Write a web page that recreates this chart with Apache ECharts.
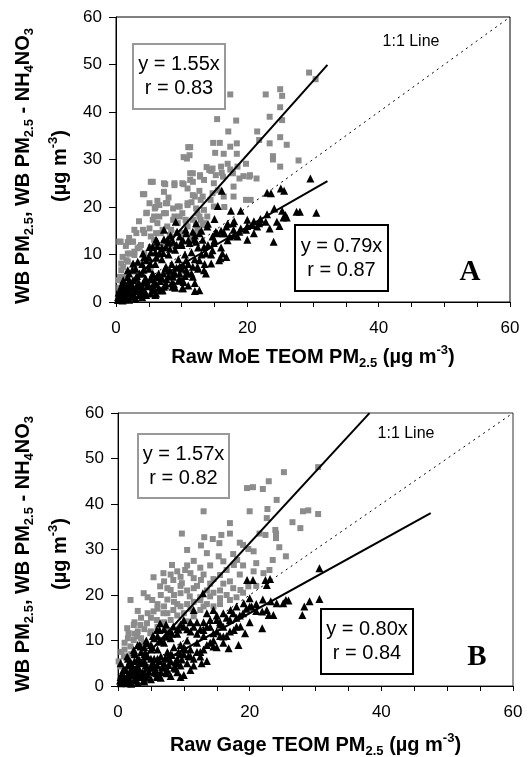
<!DOCTYPE html>
<html><head><meta charset="utf-8">
<script src="https://cdn.jsdelivr.net/npm/echarts/dist/echarts.min.js"></script>
<style>html,body{margin:0;padding:0;background:#fff}#c{width:529px;height:757px}</style>
</head><body><div id="c"></div><script>
// ---------- Panel A data (Raw MoE TEOM) ----------
const greyA = [[29.4,48.3],[30.4,46.9],[17.4,43.7],[22.8,43.7],[25.0,44.8],[25.3,43.4],[25.0,41.0],[23.4,39.0],[25.3,38.3],[15.4,38.5],[18.3,38.2],[21.5,35.9],[17.1,35.9],[23.4,33.4],[25.0,34.7],[26.0,33.1],[21.8,34.1],[14.8,33.5],[15.8,33.5],[17.4,32.7],[18.4,33.4],[11.0,32.6],[10.3,30.5],[15.1,31.4],[16.4,31.2],[18.4,31.2],[23.9,30.7],[23.9,30.0],[27.8,29.8],[19.8,29.1],[25.0,28.5],[13.8,28.4],[14.5,27.6],[16.1,27.2],[11.3,27.1],[17.4,27.9],[20.4,26.7],[21.4,26.0],[19.4,26.5],[12.8,26.4],[11.3,25.7],[5.3,25.3],[7.3,25.0],[8.9,25.0],[10.1,25.0],[13.4,25.7],[14.9,25.0],[17.9,24.3],[19.8,21.5],[20.5,21.5],[4.1,22.7],[7.3,23.2],[10.9,23.9],[12.0,22.2],[12.9,21.5],[14.4,21.5],[16.4,22.2],[17.9,22.2],[6.3,21.3],[7.8,20.8],[9.4,20.1],[10.9,20.4],[12.2,19.7],[13.4,19.4],[14.9,20.1],[4.7,18.8],[5.8,18.0],[7.3,18.7],[8.9,18.0],[10.1,18.7],[6.3,16.6],[7.8,15.9],[9.4,16.6],[10.9,15.9],[12.4,15.2],[13.4,16.6],[2.8,15.2],[4.3,14.5],[5.3,13.8],[6.8,14.5],[8.4,13.6],[9.9,14.5],[11.4,13.4],[0.5,12.7],[1.5,11.8],[2.5,12.7],[3.8,12.0],[5.3,11.6],[7.3,12.4],[8.9,12.0],[1.8,10.2],[2.8,9.9],[4.3,10.2],[6.3,9.9],[0.8,8.1],[1.8,8.5],[2.8,7.8],[3.8,8.1],[5.3,7.4],[0.8,6.7],[1.3,5.3],[0.3,4.6],[1.8,6.0],[2.8,6.4],[12.9,17.3],[13.9,18.0],[12.4,18.7],[10.6,17.3],[8.4,15.2],[9.4,14.5],[11.9,14.5],[5.8,13.1],[3.3,11.3],[4.8,8.8],[3.5,17.0],[6.0,20.0],[8.0,22.0],[11.5,21.0],[15.5,23.5],[16.5,20.0],[2.0,13.5],[1.0,9.5],[0.5,3.0],[2.2,4.0],
  [11.3,32.6],[11.2,30.9],[10.8,30.2],[5.6,25.3],[4.3,22.7],[7.5,24.8],[8.9,24.6],[10.3,24.8],[11.7,27.1],[11.7,25.3],[12.8,26.7],[14.2,27.8],[14.7,28.1],[16.0,28.5],[17.0,29.1],[15.2,26.7],[16.3,26.4],[17.8,27.1],[18.5,28.5],[18.8,26.0],[20.3,26.4],[12.7,23.4],[11.7,22.5],[13.2,22.2],[14.7,22.9],[5.1,20.8],[5.9,19.7],[6.6,20.4],[7.6,20.8],[8.7,19.7],[9.7,20.1],[10.9,20.8],[4.6,18.7],[5.6,17.3],[6.6,18.0],[7.6,18.7],[8.7,17.3],[9.7,18.0],[10.7,16.6],[11.7,17.3],[12.7,18.0],[3.1,14.5],[4.1,15.2],[5.1,15.5],[6.1,14.5],[7.1,15.2],[8.2,14.1],[12.2,16.2],[13.2,16.2],[2.1,10.2],[2.8,10.6],[3.6,11.6],[1.6,8.8],[1.1,7.4],[0.6,5.3],[1.8,12.6],[0.7,12.7],[2.6,12.7]];
const blackA = [[29.6,26.0],[23.0,23.0],[23.6,22.9],[25.1,23.9],[25.6,23.4],[16.1,23.4],[15.5,20.2],[17.5,19.2],[19.0,19.2],[24.1,19.7],[25.3,19.2],[27.5,19.0],[28.0,19.0],[30.5,18.8],[20.0,17.3],[21.9,16.9],[24.5,16.9],[25.5,17.8],[26.0,17.8],[25.8,18.3],[23.4,15.5],[24.9,16.0],[21.5,15.9],[21.0,14.5],[20.0,13.1],[24.0,12.7],[17.9,15.2],[18.5,13.8],[16.5,14.5],[15.4,14.5],[13.9,15.9],[12.2,16.6],[10.6,15.2],[9.1,16.9],[7.3,15.2],[5.6,11.6],[6.3,12.7],[7.8,13.1],[9.9,12.4],[11.9,13.1],[13.4,11.6],[14.9,12.4],[16.2,10.2],[15.9,9.2],[14.5,8.1],[13.4,6.7],[12.4,7.4],[10.9,6.0],[9.9,4.6],[8.6,3.2],[10.1,2.9],[12.0,2.3],[6.8,2.5],[5.3,1.8],[3.8,1.5],[2.3,1.1],[0.8,0.8],[0.3,0.4],[0.5,1.5],[1,2.5],[1,4],[1.5,1],[1.5,3],[2,2],[2,4.5],[2,6],[2.5,1.5],[2.5,3.5],[3,2.5],[3,5],[3,7],[3.5,1.5],[3.5,4],[4,3],[4,6],[4,8],[4.5,2],[4.5,5],[5,3.5],[5,7],[5,9.5],[5.5,2.5],[5.5,5.5],[6,4],[6,8],[6,10.5],[6.5,3],[6.5,6],[7,5],[7,9],[7,11.5],[7.5,3.5],[7.5,7],[8,5.5],[8,10],[8,12.5],[8.5,4],[8.5,8],[9,6],[9,11],[9.5,4.5],[9.5,9],[10,7],[10,12],[10.5,5.5],[10.5,10],[11,8],[11,13],[11.5,6],[11.5,10.5],[12,9],[12,14],[12.5,7],[12.5,11.5],[13,10],[13,15],[13.5,8],[14,12],[14,16.5],[14.5,10],[15,13],[15,17.5],[16,11.5],[16,15],[17,13],[17,16.5],[18,14],[18,17],[19,15.5],[20,16],[21,17],[22,17.5],[23,18.5],[12,4],[11,3.5],[9,3],[7,2.5],[6,1.5],[4,1],[3,0.8],[2,0.5],[1,0.3],
  [5.6,11.6],[4.6,8.8],[6.6,10.2],[7.6,11.6],[8.7,12.7],[9.7,13.8],[10.7,14.5],[11.7,14.8],[12.7,14.5],[11.2,12.4],[12.2,12.7],[13.2,13.1],[14.7,13.8],[15.2,14.8],[16.3,14.5],[16.8,15.9],[17.8,16.6],[17.3,13.8],[18.8,14.8],[19.8,15.2],[20.8,16.2],[21.8,16.6],[22.8,16.9],[14.7,10.9],[15.7,8.8],[16.8,9.5],[13.7,10.2],[12.7,8.8],[11.7,7.4],[10.7,8.8],[9.7,7.4],[8.7,6.0],[7.6,7.4],[6.6,5.3],[5.6,6.0],[4.6,4.6],[3.6,6.0],[2.6,4.6],[1.6,3.2],[1.1,4.6],[0.6,2.5],[3.6,2.5],[5.6,3.2],[7.6,3.9],[9.7,4.6],[11.7,5.3],[13.7,6.0],[7.1,2.5],[10.2,2.9],[12.7,2.5],[6.1,1.8],[2.1,1.8],[4.6,1.5],[2.6,8.1],[1.8,6.7],[4.1,10.2],[5.1,11.6],[6.1,13.1],
  [0.3,1],[0.7,2],[1.2,1.5],[1.7,2.2],[2.2,3],[2.7,2.3],[3.2,3.6],[3.7,2.8],[4.2,4.2],[4.7,3.3],[5.2,4.8],[5.7,3.8],[6.2,5.2],[6.7,4.4],[7.2,6],[7.7,4.8],[8.2,6.6],[8.7,5.3],[9.2,7.2],[9.7,6],[10.2,7.8],[10.7,6.8],[1.2,3.2],[2.2,4],[3.2,5.5],[4.2,6.8],[5.2,8],[6.2,9.3],[7.2,10.3],[8.2,11.2],[9.2,12],[10.2,13],[3.3,8.5],[4.3,9.5],[5.3,10.5],[6.3,11.8],[7.3,13.2],[8.3,14],[9.3,14.8],[2.5,6.8],[1.8,5.2],[0.8,3.3],[0.4,2],[1.3,0.6],[2.8,1.2],[4.3,1.8],[5.8,2.8],[7.3,3.2],[8.8,3.8],[10.3,4.2]];
const slopesA = [1.55, 0.79];
const fitEndA = [32.2, 32.2];
const statsA = [['y = 1.55x','r = 0.83'],['y = 0.79x','r = 0.87']];

// ---------- Panel B data (Raw Gage TEOM) ----------
const greyB = [[30.4,48.1],[25.2,47.0],[22.9,45.0],[19.6,43.5],[20.5,43.7],[22.0,43.3],[13.0,38.4],[20.0,38.4],[22.7,38.9],[24.1,40.9],[28.1,38.4],[28.9,38.6],[30.4,37.8],[9.7,33.5],[13.1,32.7],[14.4,32.3],[15.7,33.2],[17.0,33.5],[15.4,31.4],[17.0,35.8],[23.9,34.3],[24.0,33.5],[24.0,32.5],[22.4,33.2],[22.6,36.9],[12.6,30.9],[13.5,29.2],[10.5,29.9],[19.0,31.0],[19.8,30.1],[20.6,29.6],[25.5,28.5],[23.5,27.7],[27.7,34.7],[15.3,28.5],[16.0,27.4],[17.6,26.6],[18.1,27.7],[20.6,25.2],[22.1,24.8],[8.2,26.6],[9.0,25.2],[10.2,25.5],[11.0,24.8],[5.4,23.9],[6.9,24.8],[8.4,23.3],[9.7,22.6],[11.5,23.7],[12.6,23.3],[14.5,23.5],[15.5,24.4],[17.0,23.0],[18.6,21.1],[19.8,21.9],[3.9,20.4],[1.9,18.9],[5.2,18.9],[6.4,21.9],[8.0,21.1],[9.5,20.4],[10.9,19.7],[12.5,18.9],[14.0,19.7],[15.5,19.3],[17.0,18.9],[1.4,12.7],[1.6,11.6],[2.4,13.4],[3.4,13.4],[4.4,13.8],[5.9,14.5],[5.4,16.4],[6.9,16.0],[8.4,16.7],[10.0,16.0],[11.5,15.3],[12.5,16.7],[2.4,10.1],[3.9,9.4],[1.9,8.7],[0.9,6.5],[0.1,5.4],[0.4,4.3],[2.9,10.9],[4.9,11.6],[7.4,12.3],[9.5,13.1],[10.5,14.2],[4.5,19.5],[7.5,19.0],[11.5,21.5],[13.5,21.0],[6.0,18.0],[3.0,16.5],[9.0,18.0],[1.0,9.5],[2.0,7.0],
  [2.5,14],[3.5,15],[4.5,16],[5,15],[6,17],[7,17.5],[7.5,16],[8.5,18.5],[9.5,17.5],[10.5,18],[11.5,18.5],[12.5,19.5],[13.5,18],[14.5,20.5],[15.5,21],[16.5,20],[6.5,20],[7.5,21.5],[8.5,20],[9.5,22],[10.5,21],[12,22],[13,24.5],[14,22.5],[16,22.5],[17.5,21.5],[18.5,24.5],[7,23],[8,24.5],[9.5,24],[10.5,26.5],[11.5,27.5],[12.5,26],[14,26.5],[16.5,25.5],[17.5,29],[19,26.5],[21,27],[3,12],[4,12.5],[5,12],[6,13],[7,14],[8,14.5],[9,15.5],[1.5,10.5],[2.5,11.5],[0.5,7.5],[1,8],[3.5,10.5],[11,17],[13,17.5],[14.5,17.5],[15.5,18],[18,19.5],[19,20.5],[21,22],[23,25.5],[24.5,30.5],[26.5,36],[21.5,33.5],[18.5,31.5]];
const blackB = [[30.6,25.9],[30.6,19.1],[29.1,18.6],[28.3,17.5],[28.0,15.6],[25.5,18.9],[25.9,18.8],[25.1,18.2],[24.1,18.2],[23.2,18.6],[22.6,16.7],[22.9,15.6],[23.6,15.6],[21.9,16.4],[19.6,23.3],[20.5,23.3],[22.4,23.3],[23.1,23.5],[22.6,22.2],[20.0,19.3],[19.1,18.2],[20.3,17.5],[21.9,12.7],[19.3,11.6],[18.3,9.0],[16.8,8.3],[17.1,16.7],[16.0,16.0],[15.0,14.5],[13.5,16.0],[14.5,16.7],[13.0,12.3],[14.5,11.6],[16.0,10.9],[17.6,12.3],[18.6,13.1],[12.9,20.4],[11.5,16.7],[10.0,14.5],[8.4,13.1],[6.4,13.8],[5.9,12.3],[4.4,9.4],[3.4,8.7],[2.4,7.9],[1.4,6.5],[0.4,5.0],[12.5,6.5],[14.5,8.7],[12.7,5.0],[10.0,2.4],[7.4,2.8],[5.9,2.1],[3.9,1.3],[1.9,1.0],[0.4,0.6],[0.5,1],[1,2],[1,3.5],[1.5,1.5],[1.5,4.5],[2,2.5],[2,5],[2.5,1.5],[2.5,3.5],[3,2.5],[3,6],[3,4],[3.5,2],[3.5,7.5],[4,3],[4,5.5],[4,8.5],[4.5,2.5],[4.5,6.5],[5,4],[5,9],[5.5,3],[5.5,6],[6,4.5],[6,8],[6,11],[6.5,3],[6.5,6.5],[7,5],[7,9.5],[7,12.5],[7.5,3.5],[7.5,7.5],[8,5.5],[8,10.5],[8.5,4],[8.5,8.5],[9,6],[9,11.5],[9.5,4.5],[9.5,9],[10,7],[10,13],[10.5,5],[10.5,10],[11,8],[11,12],[11.5,6],[12,9.5],[12,14],[12.5,7.5],[13,11],[13.5,9],[14,13],[14.5,10],[15,12],[15.5,14],[16,13],[17,14.5],[18,15],[19,16],[20,17.5],[21,16.5],[5,1.5],[4,1],[3,0.8],[2,0.5],[8,2.2],[9,3],[11,3.5],[6,2],
  [5.5,10.5],[6.5,10],[7.5,11],[8,12],[9,12.5],[9.5,13.5],[10.5,12.5],[11,14],[11.5,13],[12,11.5],[12.5,12.5],[13,14],[13.5,13],[14,14.5],[15,15.5],[15.5,13.5],[16.5,15],[17.5,16],[18,17.5],[18.5,15.5],[19.5,17],[21,18],[22,19],[13,8],[14,9.5],[15,8.5],[16,9.5],[12,7.5],[11,6.5],[10,8.5],[9.5,7],[9,5],[8,7],[7.5,6],[7,4],[6,6],[5.5,4.5],[5,6],[4.5,4],[4,7],[3.5,5],[3,3],[2.5,5.5],[2,3.5],[1.5,2.5],[1,1.5],[0.5,2.5],[4,2],[6.5,1.8],[9.5,2],[11.5,4.5],[13.5,5.5],[2.5,7.5],[1.5,6],[3,9],[5,8],[15.5,11],[17,12],[16.5,11],[18,13],[20,14],
  [0.3,1.2],[0.7,2.2],[1.2,1.2],[1.7,2.8],[2.2,3.3],[2.7,2.4],[3.2,3.8],[3.7,2.9],[4.2,4.5],[4.7,3.2],[5.2,5],[5.7,3.7],[6.2,5.5],[6.7,4.2],[7.2,6.2],[7.7,4.6],[8.2,6.8],[8.7,5.2],[9.2,7.5],[9.7,5.8],[10.2,8],[10.7,6.6],[1.2,3.5],[2.2,4.2],[3.2,5.8],[4.2,7.2],[5.2,8.5],[6.2,9.7],[7.2,10.8],[8.2,11.5],[9.2,12.4],[3.3,9],[4.3,10],[5.3,11],[6.3,12.3],[7.3,13.5],[2.5,7],[1.8,5.5],[0.8,3.5],[0.4,2],[1.3,0.6],[2.8,1.2],[4.3,1.8],[5.8,2.8],[7.3,3.2],[8.8,3.8]];
const slopesB = [1.57, 0.80];
const fitEndB = [38.2, 47.5];
const statsB = [['y = 1.57x','r = 0.82'],['y = 0.80x','r = 0.84']];

const axisRange = [0, 60];
const xTitles = ['Raw MoE TEOM PM', 'Raw Gage TEOM PM'];
const panelLetters = ['A', 'B'];
const oneToOne = '1:1 Line';

const FONT = '"Liberation Sans", Arial, sans-serif';
const richTitle = {
  b: {fontFamily: FONT, fontSize: 20, fontWeight: 'bold', color: '#000', lineHeight: 26},
  s: {fontFamily: FONT, fontSize: 13, fontWeight: 'bold', color: '#000', lineHeight: 12, verticalAlign: 'bottom'},
  p: {fontFamily: FONT, fontSize: 13, fontWeight: 'bold', color: '#000', lineHeight: 12, verticalAlign: 'top'}
};
function xName(t) { return '{b|' + t + '}{s|2.5}{b| (µg m}{p|-3}{b|)}'; }
const yLine1 = '{b|WB PM}{s|2.5}{b|, WB PM}{s|2.5}{b| - NH}{s|4}{b|NO}{s|3}';
const yLine2 = '{b|(µg m}{p|-3}{b|)}';

function xAx(gi, title, gap) {
  return {
    gridIndex: gi, type: 'value', min: axisRange[0], max: axisRange[1], interval: 20,
    axisLine: {show: true, lineStyle: {color: '#000', width: 1}},
    axisTick: {show: true, length: 5, lineStyle: {color: '#000'}},
    minorTick: {show: true, splitNumber: 4, length: 5, lineStyle: {color: '#000'}},
    splitLine: {show: false}, minorSplitLine: {show: false},
    axisLabel: {color: '#000', fontSize: 17, fontFamily: FONT, margin: 18},
    name: xName(title), nameLocation: 'middle', nameGap: gap,
    nameTextStyle: {rich: richTitle}
  };
}
function yAx(gi) {
  return {
    gridIndex: gi, type: 'value', min: axisRange[0], max: axisRange[1], interval: 10,
    axisLine: {show: true, lineStyle: {color: '#000', width: 1}},
    axisTick: {show: true, length: 7, lineStyle: {color: '#000'}},
    splitLine: {show: false},
    axisLabel: {color: '#000', fontSize: 17, fontFamily: FONT, margin: 14}
  };
}
function fitLine(slope, end) { return [[0, 0], [end, slope * end]]; }

function panelSeries(gi, grey, black, slopes, ends) {
  return [
    {type: 'scatter', xAxisIndex: gi, yAxisIndex: gi, data: grey, symbol: 'rect', symbolSize: 6,
     itemStyle: {color: '#8c8c8c', opacity: 1}, silent: true, z: 2},
    {type: 'scatter', xAxisIndex: gi, yAxisIndex: gi, data: black, symbol: 'triangle', symbolSize: 8,
     itemStyle: {color: '#000', opacity: 1}, silent: true, z: 3},
    {type: 'line', xAxisIndex: gi, yAxisIndex: gi, data: [[axisRange[0], axisRange[0]], [axisRange[1], axisRange[1]]],
     symbol: 'none', lineStyle: {color: '#000', width: 1, type: [2, 4]}, silent: true, z: 4},
    {type: 'line', xAxisIndex: gi, yAxisIndex: gi, data: fitLine(slopes[0], ends[0]), clip: true,
     symbol: 'none', lineStyle: {color: '#000', width: 2}, silent: true, z: 5},
    {type: 'line', xAxisIndex: gi, yAxisIndex: gi, data: fitLine(slopes[1], ends[1]), clip: true,
     symbol: 'none', lineStyle: {color: '#000', width: 2}, silent: true, z: 5}
  ];
}

function statBox(x, y, w, h, lines, stroke) {
  return {
    type: 'group', z: 100, children: [
      {type: 'rect', shape: {x: x, y: y, width: w, height: h},
       style: {fill: '#fff', stroke: stroke, lineWidth: 2}},
      {type: 'text', x: x + w / 2, y: y + h / 2 - 12,
       style: {text: lines[0], font: '20px ' + FONT, fill: '#000', align: 'center', verticalAlign: 'middle'}},
      {type: 'text', x: x + w / 2, y: y + h / 2 + 12,
       style: {text: lines[1], font: '20px ' + FONT, fill: '#000', align: 'center', verticalAlign: 'middle'}}
    ]
  };
}
function yTitle(cx, cy, txt) {
  return {type: 'text', x: cx, y: cy, rotation: Math.PI / 2, z: 100,
    style: {text: txt, rich: richTitle, align: 'center', verticalAlign: 'middle', fill: '#000'}};
}

const chart = echarts.init(document.getElementById('c'), null, {renderer: 'canvas'});
chart.setOption({
  animation: false,
  backgroundColor: '#fff',
  grid: [
    {left: 116, top: 17, width: 394, height: 285, show: true, borderColor: '#000', borderWidth: 1, containLabel: false, outerBoundsMode: 'none'},
    {left: 118, top: 413, width: 395, height: 273, show: true, borderColor: '#333', borderWidth: 1, containLabel: false, outerBoundsMode: 'none'}
  ],
  xAxis: [xAx(0, xTitles[0], 42), xAx(1, xTitles[1], 46)],
  yAxis: [yAx(0), yAx(1)],
  series: [].concat(
    panelSeries(0, greyA, blackA, slopesA, fitEndA),
    panelSeries(1, greyB, blackB, slopesB, fitEndB)
  ),
  graphic: [
    yTitle(23, 166, yLine1), yTitle(60, 166, yLine2),
    yTitle(23, 554, yLine1), yTitle(60, 554, yLine2),
    statBox(133, 44, 92, 65, statsA[0], '#999'),
    statBox(295, 225, 93, 66, statsA[1], '#000'),
    statBox(138, 434, 91, 64, statsB[0], '#999'),
    statBox(321, 609, 92, 65, statsB[1], '#000'),
    {type: 'text', x: 411, y: 42, z: 100, style: {text: oneToOne, font: '16px ' + FONT, fill: '#000', align: 'center', verticalAlign: 'middle'}},
    {type: 'text', x: 406, y: 434, z: 100, style: {text: oneToOne, font: '16px ' + FONT, fill: '#000', align: 'center', verticalAlign: 'middle'}},
    {type: 'text', x: 470, y: 273, z: 100, style: {text: panelLetters[0], font: 'bold 29px "Liberation Serif", serif', fill: '#000', align: 'center', verticalAlign: 'middle'}},
    {type: 'text', x: 477, y: 658, z: 100, style: {text: panelLetters[1], font: 'bold 29px "Liberation Serif", serif', fill: '#000', align: 'center', verticalAlign: 'middle'}}
  ]
});
</script></body></html>
